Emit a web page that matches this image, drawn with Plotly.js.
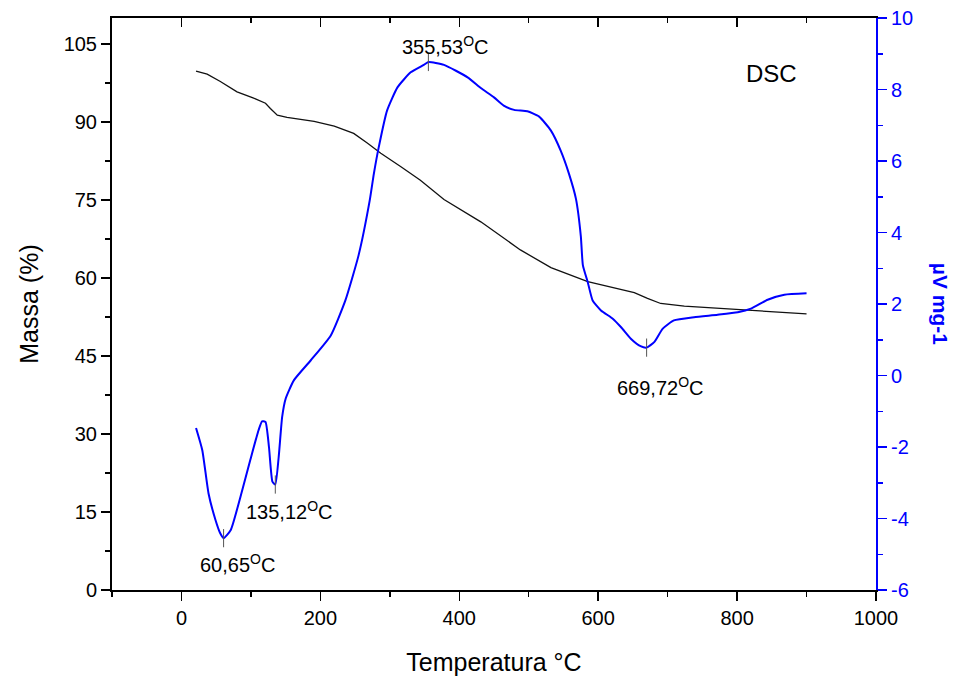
<!DOCTYPE html>
<html>
<head>
<meta charset="utf-8">
<script src="https://cdn.plot.ly/plotly-3.0.1.min.js"></script>
<style>html,body{margin:0;padding:0;background:#fff}#chart{width:957px;height:678px}</style>
</head>
<body>
<div id="chart"></div>
<script>
// TGA (mass %) vs temperature
const tgaTemp = [21, 37, 56, 80, 104, 121, 128, 138, 152, 191, 220, 248, 268, 287, 316, 344, 378, 431, 488, 532, 585, 628, 652, 671, 690, 724, 772, 820, 868, 900];
const tgaMass = [99.8, 99.2, 97.8, 95.8, 94.6, 93.6, 92.6, 91.3, 90.9, 90.1, 89.2, 87.8, 85.9, 84.0, 81.4, 78.8, 75.1, 70.8, 65.4, 62.0, 59.3, 58.0, 57.2, 56.1, 55.1, 54.6, 54.2, 53.7, 53.3, 53.1];

// DSC (µV mg-1) vs temperature
const dscTemp = [21, 30, 39, 49, 56, 60.65, 71, 85, 99, 111, 116, 121, 126, 131, 135.12, 140, 145, 150, 162, 186, 215, 236, 255, 271, 277, 284, 296, 311, 330, 349, 355.53, 378, 412, 431, 450, 464, 479, 498, 515, 532, 546, 558, 568, 575, 578, 585, 592, 604, 621, 633, 647, 661, 669.72, 681, 693, 709, 738, 772, 801, 820, 844, 868, 900];
const dscVal = [-1.47, -2.09, -3.30, -4.04, -4.42, -4.55, -4.32, -3.39, -2.37, -1.53, -1.28, -1.30, -2.0, -2.97, -3.05, -2.28, -1.16, -0.65, -0.13, 0.42, 1.12, 2.1, 3.36, 4.89, 5.64, 6.38, 7.41, 8.06, 8.48, 8.69, 8.77, 8.69, 8.34, 8.04, 7.78, 7.55, 7.43, 7.39, 7.24, 6.85, 6.29, 5.64, 4.94, 3.9, 3.08, 2.61, 2.10, 1.82, 1.59, 1.35, 1.03, 0.82, 0.78, 0.94, 1.31, 1.54, 1.63, 1.70, 1.77, 1.87, 2.12, 2.26, 2.30];

// Right axis tick labels (plain hyphen minus as in the original)
const dscTickVals = [-6, -4, -2, 0, 2, 4, 6, 8, 10];
const dscTickText = ["-6", "-4", "-2", "0", "2", "4", "6", "8", "10"];

// Peaks marked on the DSC curve
const peakTemp = [60.65, 135.12, 355.53, 669.72];
const peakVal = [-4.55, -3.05, 8.77, 0.78];
const peakLabels = ["60,65<sup>O</sup>C", "135,12<sup>O</sup>C", "355,53<sup>O</sup>C", "669,72<sup>O</sup>C"];
const peakLabelOffset = [-0.7, -0.72, 0.45, -1.08];

const FONT = "Liberation Sans, Arial, sans-serif";

const traces = [
  {x: tgaTemp, y: tgaMass, xaxis: 'x', yaxis: 'y', mode: 'lines', line: {color: '#111', width: 1.3}, hoverinfo: 'skip'},
  {x: dscTemp, y: dscVal, xaxis: 'x', yaxis: 'y2', mode: 'lines', line: {color: '#0000ff', width: 2, shape: 'spline', smoothing: 0.5}, hoverinfo: 'skip'},
  {x: peakTemp, y: peakVal, xaxis: 'x', yaxis: 'y2', mode: 'markers', marker: {symbol: 'line-ns-open', size: 13, color: '#555', line: {color: '#555', width: 1}}, hoverinfo: 'skip'},
  {x: [], y: [], xaxis: 'x2', yaxis: 'y', mode: 'lines', hoverinfo: 'skip'}
];

const annotations = peakTemp.map((t, i) => ({
  x: t + (i === 2 ? 25 : 20), y: peakVal[i] + peakLabelOffset[i], xref: 'x', yref: 'y2',
  text: peakLabels[i], showarrow: false, font: {family: FONT, size: 20, color: '#000'}
}));
annotations.push({x: 849, y: 8.44, xref: 'x', yref: 'y2', text: 'DSC', showarrow: false, font: {family: FONT, size: 24, color: '#000'}});
annotations.push({x: 1.103, y: 0.5, xref: 'paper', yref: 'paper', text: '<b>µV mg-1</b>', textangle: 90, showarrow: false, font: {family: FONT, size: 21, color: '#0000ff'}});

const layout = {
  width: 957, height: 678,
  margin: {l: 112, r: 81, t: 18, b: 88},
  paper_bgcolor: '#fff', plot_bgcolor: '#fff',
  showlegend: false,
  font: {family: FONT, size: 20, color: '#000'},
  xaxis: {
    range: [-100, 1000], tick0: 0, dtick: 200, showgrid: false, zeroline: false,
    showline: true, linecolor: '#000', linewidth: 2, ticks: 'outside', ticklen: 9, tickwidth: 1.5, tickcolor: '#000',
    minor: {dtick: 100, ticks: 'outside', ticklen: 5, tickwidth: 1.5, tickcolor: '#000', showgrid: false},
    tickfont: {family: FONT, size: 20, color: '#000'},
    title: {text: 'Temperatura °C', font: {family: FONT, size: 25, color: '#000'}, standoff: 25}
  },
  xaxis2: {
    overlaying: 'x', side: 'top', anchor: 'y', range: [-100, 1000], tick0: 0, dtick: 200,
    showgrid: false, zeroline: false, showticklabels: false,
    showline: true, linecolor: '#000', linewidth: 2, ticks: 'inside', ticklen: 9, tickwidth: 1.5, tickcolor: '#000',
    minor: {dtick: 100, ticks: 'inside', ticklen: 5, tickwidth: 1.5, tickcolor: '#000', showgrid: false}
  },
  yaxis: {
    range: [0, 110], tick0: 0, dtick: 15, showgrid: false, zeroline: false,
    showline: true, linecolor: '#000', linewidth: 2, ticks: 'outside', ticklen: 9, tickwidth: 1.5, tickcolor: '#000',
    minor: {dtick: 7.5, ticks: 'outside', ticklen: 5, tickwidth: 1.5, tickcolor: '#000', showgrid: false},
    tickfont: {family: FONT, size: 20, color: '#000'},
    title: {text: 'Massa (%)', font: {family: FONT, size: 25, color: '#000'}, standoff: 18}
  },
  yaxis2: {
    overlaying: 'y', side: 'right', anchor: 'x', range: [-6, 10],
    tickmode: 'array', tickvals: dscTickVals, ticktext: dscTickText,
    showgrid: false, zeroline: false,
    showline: true, linecolor: '#0000ff', linewidth: 2, ticks: 'outside', ticklen: 9, tickwidth: 1.5, tickcolor: '#0000ff',
    minor: {tick0: -6, dtick: 1, ticks: 'outside', ticklen: 5, tickwidth: 1.5, tickcolor: '#0000ff', showgrid: false},
    tickfont: {family: FONT, size: 20, color: '#0000ff'}
  },
  annotations: annotations
};

Plotly.newPlot('chart', traces, layout, {displayModeBar: false, staticPlot: true});
</script>
</body>
</html>
